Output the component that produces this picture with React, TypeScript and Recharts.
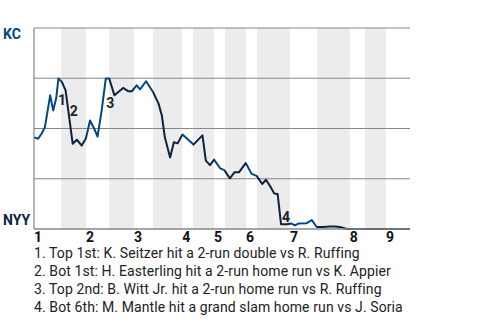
import {
  LineChart,
  Line,
  XAxis,
  YAxis,
  CartesianGrid,
  ReferenceArea,
  ReferenceLine,
  ReferenceDot,
} from "recharts";

// plate-appearance position (0..100) and KC win probability (%)
const paX = [
  0, 1.1, 2, 2.9, 4.3, 5.1, 5.9, 6.5, 7.4, 8.4, 10.3, 11.4, 12.7, 13.8, 14.9,
  16, 16.9, 18, 19.1, 20, 21.4, 23.7, 25.1, 26, 27.3, 28.2, 29.8, 31.7, 33.1,
  34, 34.8, 36.2, 37.2, 38.2, 39.5, 42.4, 44.8, 45.7, 46.8, 47.9, 49.5, 50.6,
  52.1, 53.3, 54.5, 56.3, 57.9, 59.2, 60.7, 61.7, 63, 63.9, 64.8, 65.7, 67.2,
  68.5, 69.4, 70.3, 72.5, 73.9, 75.2, 76.9, 78.7, 80, 81.4, 83.2, 90, 100,
];
const kcWin = [
  45.6, 44.9, 47.4, 50.7, 66.5, 59, 65, 74.9, 73.2, 69, 42.4, 44.4, 41.5, 45,
  54, 50, 46, 59, 74.9, 74.9, 66.5, 70.2, 68.5, 68.5, 71.5, 69.5, 73.5, 68,
  62.5, 56.5, 45.6, 35.6, 43.2, 42.6, 47, 42, 46.6, 34, 31.8, 34.5, 30.2, 29.3,
  25.2, 28.2, 28.2, 32.8, 27.4, 26.4, 22.4, 24.5, 20.7, 17.7, 17.4, 2.4, 2.4,
  2.7, 1.8, 2.7, 2.9, 4.4, 1, 1, 1.2, 1.3, 1, 0, 0, 0,
];

const inningLabels = ["1", "2", "3", "4", "5", "6", "7", "8", "9"];
const topStart = [0, 13.8, 26.6, 39.4, 47.9, 56.4, 68.1, 84, 93.6];
const botStart = [7.2, 20, 31.6, 42.3, 50.8, 59.3, 75.3, 88];

const eventNums = ["1", "2", "3", "4"];
const eventX = [7.45, 10.6, 20.3, 67];
const eventY = [64.2, 58.7, 62.7, 6];
const eventText = [
  "1. Top 1st: K. Seitzer hit a 2-run double vs R. Ruffing",
  "2. Bot 1st: H. Easterling hit a 2-run home run vs K. Appier",
  "3. Top 2nd: B. Witt Jr. hit a 2-run home run vs R. Ruffing",
  "4. Bot 6th: M. Mantle hit a grand slam home run vs J. Soria",
];

const KC = "#004687";
const NYY = "#0C2340";
const GRID = "#878787";

const data = paX.map((x, i) => ({ x, wp: kcWin[i] }));

const segments: { from: number; to: number; color: string }[] = [];
topStart.forEach((t, i) => {
  const b = botStart[i];
  segments.push({ from: t, to: b ?? 100, color: KC });
  if (b !== undefined) segments.push({ from: b, to: topStart[i + 1], color: NYY });
});

const YTick = (props: any) => {
  const { y, payload } = props;
  if (payload.value === 100)
    return (
      <text x={3} y={y + 11} fontSize={14} fontWeight={700} fill={KC}>
        KC
      </text>
    );
  if (payload.value === 0)
    return (
      <text x={3} y={y - 4} fontSize={14} fontWeight={700} fill={NYY}>
        NYY
      </text>
    );
  return <g />;
};

const XTick = (props: any) => {
  const { x, index } = props;
  return (
    <text x={x} y={242} fontSize={14} fontWeight={700} fill="#111">
      {inningLabels[index]}
    </text>
  );
};

export default function App() {
  return (
    <div
      style={{
        position: "absolute",
        left: 0,
        top: 0,
        width: 480,
        height: 320,
        background: "#fff",
        fontFamily: "Roboto, sans-serif",
      }}
    >
      <LineChart
        width={480}
        height={246}
        data={data}
        margin={{ top: 28, right: 70, left: 0, bottom: 0 }}
      >
        <defs>
          <linearGradient id="wpGrad" x1="0" y1="0" x2="1" y2="0">
            {segments.flatMap((s, i) => [
              <stop key={`a${i}`} offset={s.from / 100} stopColor={s.color} />,
              <stop key={`b${i}`} offset={s.to / 100} stopColor={s.color} />,
            ])}
          </linearGradient>
        </defs>
        <CartesianGrid horizontal={false} vertical={false} />
        {botStart.map((b, i) => (
          <ReferenceArea
            key={i}
            x1={b}
            x2={topStart[i + 1]}
            y1={0}
            y2={100}
            fill="#ececec"
            fillOpacity={1}
            stroke="none"
          />
        ))}
        {[25, 50, 75, 100].map((v) => (
          <ReferenceLine key={v} y={v} stroke={GRID} strokeWidth={1.2} />
        ))}
        <XAxis
          dataKey="x"
          type="number"
          domain={[0, 100]}
          ticks={topStart}
          tick={<XTick />}
          tickLine={false}
          axisLine={{ stroke: GRID, strokeWidth: 1.5 }}
          height={17}
          interval={0}
        />
        <YAxis
          type="number"
          domain={[0, 100]}
          ticks={[0, 25, 50, 75, 100]}
          tick={<YTick />}
          tickLine={false}
          axisLine={{ stroke: GRID, strokeWidth: 1.2 }}
          width={34}
          interval={0}
        />
        <Line
          type="linear"
          dataKey="wp"
          stroke="url(#wpGrad)"
          strokeWidth={2}
          strokeLinejoin="round"
          dot={false}
          activeDot={false}
          isAnimationActive={false}
        />
        {eventNums.map((n, i) => (
          <ReferenceDot
            key={n}
            x={eventX[i]}
            y={eventY[i]}
            r={0}
            shape={(p: any) => (
              <text
                x={p.cx}
                y={p.cy + 5}
                textAnchor="middle"
                fontSize={14}
                fontWeight={700}
                fill="#222"
              >
                {n}
              </text>
            )}
          />
        ))}
      </LineChart>
      <div
        style={{
          position: "absolute",
          left: 34,
          top: 244,
          fontSize: 14,
          letterSpacing: "0.1px",
          lineHeight: "18px",
          color: "#222",
          whiteSpace: "nowrap",
        }}
      >
        {eventText.map((t) => (
          <div key={t}>{t}</div>
        ))}
      </div>
    </div>
  );
}
